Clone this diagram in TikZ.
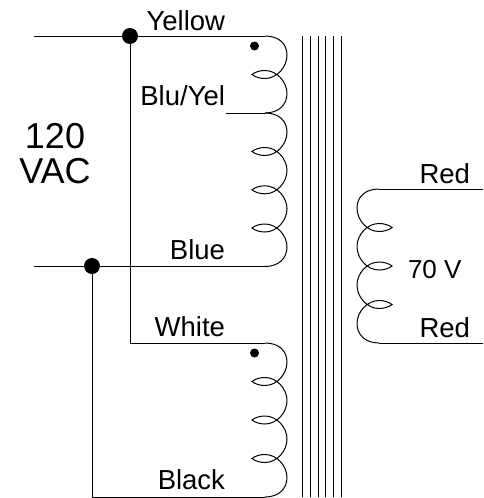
\documentclass[tikz,border=0pt]{standalone}
\usepackage{fontspec}
\setmainfont{Liberation Sans}
\tikzset{
  wire/.style={line width=1pt,black},
  lbl/.style={inner sep=0pt,outer sep=0pt,font=\fontsize{27.5}{30}\selectfont},
  biglbl/.style={inner sep=0pt,outer sep=0pt,font=\fontsize{36}{36}\selectfont},
  bigdot/.style={circle,fill=black,inner sep=0pt,minimum size=16pt},
  phasedot/.style={circle,fill=black,inner sep=0pt,minimum size=9pt}
}
% right-hand winding: first quarter, crossing turn, last quarter
\newcommand{\startRight}[1]{\draw[wire] (265,#1) .. controls (279,#1) and (287,#1+8) .. (287,#1+19);}
\newcommand{\turnRight}[1]{%
  \draw[wire] (287,#1+19) .. controls (287,#1+31) and (277,#1+42.5) .. (265,#1+42.5)
     .. controls (260,#1+42.5) and (255,#1+41) .. (252,#1+38.5)
     .. controls (255,#1+36) and (260,#1+34.5) .. (265,#1+34.5)
     .. controls (277,#1+34.5) and (287,#1+46) .. (287,#1+57.5);}
\newcommand{\stopRight}[1]{\draw[wire] (287,#1+19) .. controls (287,#1+30) and (279,#1+38.5) .. (265,#1+38.5);}
% left-hand winding
\newcommand{\startLeft}[1]{\draw[wire] (379,#1) .. controls (365,#1) and (357,#1+8) .. (357,#1+19);}
\newcommand{\turnLeft}[1]{%
  \draw[wire] (357,#1+19) .. controls (357,#1+31) and (367,#1+42.5) .. (379,#1+42.5)
     .. controls (384,#1+42.5) and (389,#1+41) .. (392,#1+38.5)
     .. controls (389,#1+36) and (384,#1+34.5) .. (379,#1+34.5)
     .. controls (367,#1+34.5) and (357,#1+46) .. (357,#1+57.5);}
\newcommand{\stopLeft}[1]{\draw[wire] (357,#1+19) .. controls (357,#1+30) and (365,#1+38.5) .. (379,#1+38.5);}
\begin{document}
\begin{tikzpicture}[x=1pt,y=-1pt]
\useasboundingbox (0,0) rectangle (483,498);
% terminals
\coordinate (inA) at (34,36);
\coordinate (inB) at (34,266);
\node[bigdot] (dotA) at (130,36) {};
\node[bigdot] (dotB) at (92,266) {};
\coordinate (yel) at (265,36);
\coordinate (tap) at (265,113);
\coordinate (tapEnd) at (226,113);
\coordinate (blu) at (265,266);
\coordinate (whi) at (265,343);
\coordinate (bla) at (265,497);
\coordinate (cA) at (130,343);
\coordinate (cB) at (92,497);
\coordinate (redA) at (379,189);
\coordinate (redAe) at (483,189);
\coordinate (redB) at (379,343);
\coordinate (redBe) at (483,343);
% wires
\draw[wire] (inA) -- (dotA) -- (yel);
\draw[wire] (inB) -- (dotB) -- (blu);
\draw[wire] (dotA) -- (cA) -- (whi);
\draw[wire] (dotB) -- (cB) -- (bla);
\draw[wire] (tapEnd) -- (tap);
\draw[wire] (redA) -- (redAe);
\draw[wire] (redB) -- (redBe);
% windings
\startRight{36}\turnRight{36}\stopRight{74.5}
\startRight{113}\turnRight{113}\turnRight{151.3}\turnRight{189.5}\stopRight{228}
\startRight{343}\turnRight{343}\turnRight{381.5}\turnRight{420}\stopRight{458.5}
\startLeft{189}\turnLeft{189}\turnLeft{227.5}\turnLeft{266}\stopLeft{304.5}
% core
\foreach \x in {302.7,310.3,318,325.7,333.7,341.3}
  \draw[wire] (\x,36) -- (\x,497);
% phase dots
\node[phasedot] (phA) at (254.5,46) {};
\node[phasedot] (phB) at (254.5,353) {};
% labels
\node[lbl,anchor=base east] (tYellow) at (225,30) {Yellow};
\node[lbl,anchor=base east] (tBluYel) at (225,105) {Blu/Yel};
\node[lbl,anchor=base east] (tBlue) at (225,259) {Blue};
\node[lbl,anchor=base east] (tWhite) at (225,336) {White};
\node[lbl,anchor=base east] (tBlack) at (225,489) {Black};
\node[lbl,anchor=base east] (tRedA) at (470,183) {Red};
\node[lbl,anchor=base east] (tRedB) at (470,337) {Red};
\node[lbl,anchor=base west,font=\fontsize{26}{30}\selectfont] (t70) at (408,278) {70 V};
\node[biglbl,anchor=base] (t120) at (55,148) {120};
\node[biglbl,anchor=base] (tVAC) at (55,183) {VAC};
\end{tikzpicture}
\end{document}
